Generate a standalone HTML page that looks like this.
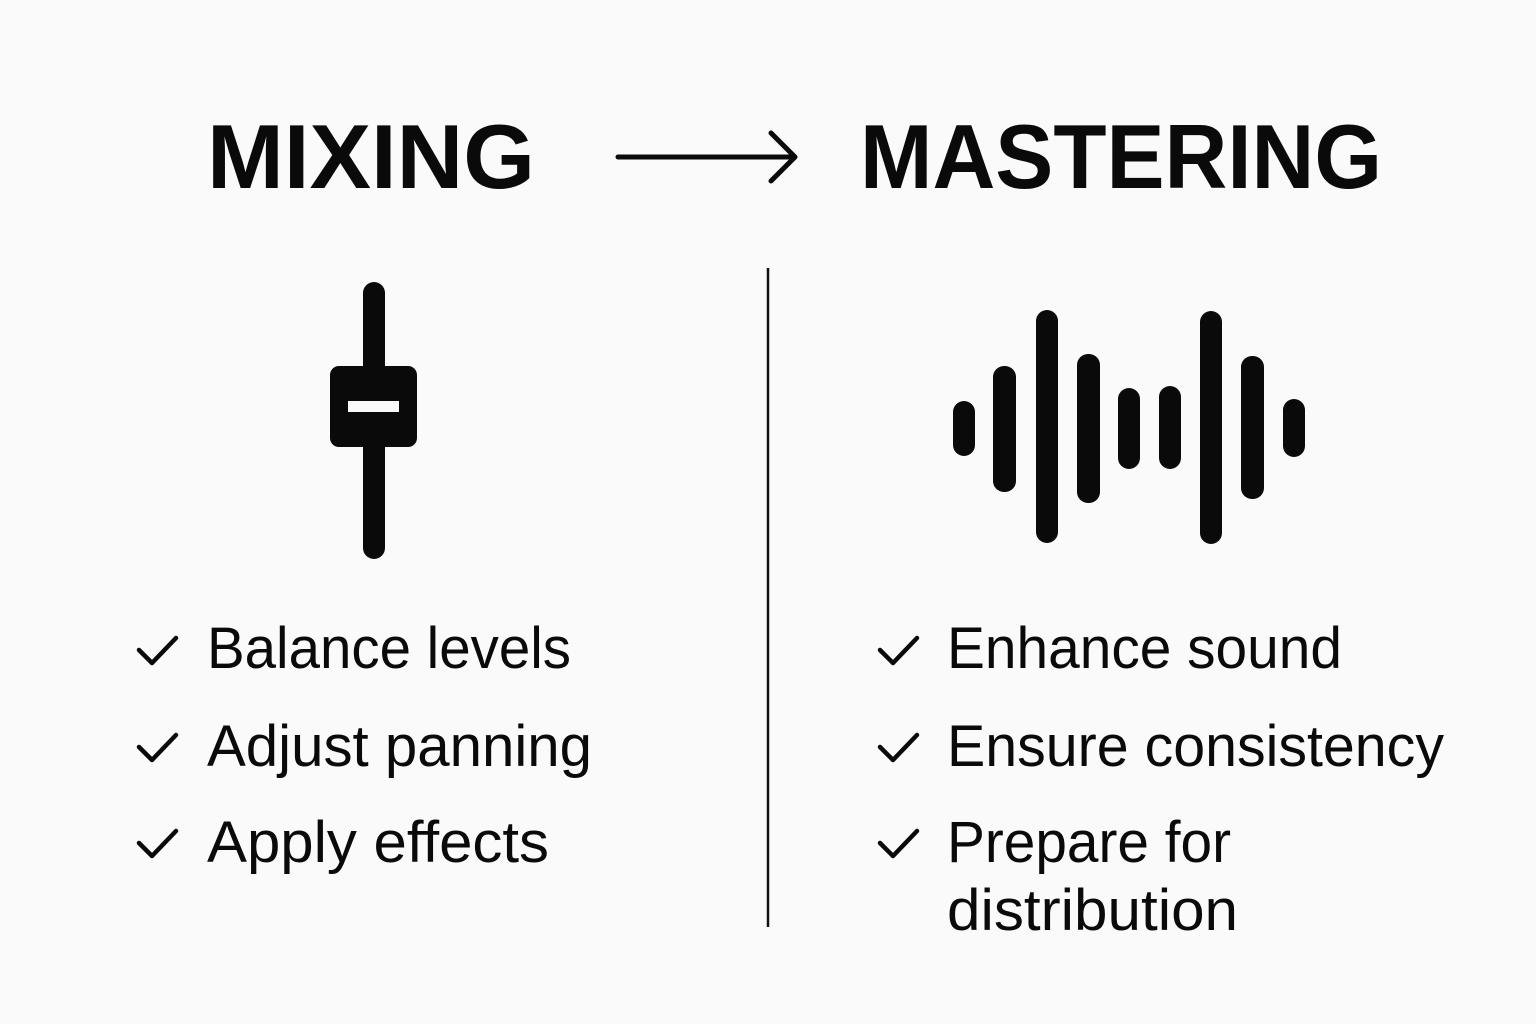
<!DOCTYPE html>
<html><head><meta charset="utf-8"><style>
html,body{margin:0;padding:0;background:#fafafa;}
svg{display:block}
</style></head><body>
<svg width="1536" height="1024" viewBox="0 0 1536 1024" xmlns="http://www.w3.org/2000/svg">
<rect width="1536" height="1024" fill="#fafafa"/>
<g font-family="Liberation Sans, sans-serif" fill="#0a0a0a">
<text x="207" y="188" font-size="91" font-weight="bold" textLength="328" lengthAdjust="spacingAndGlyphs">MIXING</text>
<text x="860" y="188" font-size="91" font-weight="bold" textLength="522" lengthAdjust="spacingAndGlyphs">MASTERING</text>
</g>
<g stroke="#0a0a0a" stroke-width="5" stroke-linecap="round" stroke-linejoin="round" fill="none">
<line x1="618" y1="157" x2="794" y2="157"/>
<polyline points="771,133 795,157 771,181"/>
</g>
<line x1="768" y1="268" x2="768" y2="927" stroke="#111" stroke-width="2.5"/>
<!-- fader -->
<rect x="363" y="282" width="22" height="277" rx="11" fill="#0a0a0a"/>
<rect x="330" y="366" width="87" height="81" rx="9" fill="#0a0a0a"/>
<rect x="348" y="401" width="51" height="11" fill="#fafafa"/>
<!-- waveform -->
<g fill="#0a0a0a">
<rect x="953" y="401" width="22" height="55" rx="11"/>
<rect x="993" y="366" width="23" height="126" rx="11"/>
<rect x="1036" y="310" width="22" height="233" rx="11"/>
<rect x="1077" y="354" width="23" height="149" rx="11"/>
<rect x="1118" y="388" width="22" height="81" rx="11"/>
<rect x="1159" y="386" width="22" height="83" rx="11"/>
<rect x="1200" y="311" width="22" height="233" rx="11"/>
<rect x="1241" y="356" width="23" height="143" rx="11"/>
<rect x="1283" y="399" width="22" height="58" rx="11"/>
</g>
<!-- checks -->
<g stroke="#0a0a0a" stroke-width="4.5" fill="none" stroke-linecap="round" stroke-linejoin="round">
<polyline points="139,650 152,663 176,638"/>
<polyline points="139,747 152,760 176,735"/>
<polyline points="139,843 152,856 176,831"/>
<polyline points="880,650 893,663 917,638"/>
<polyline points="880,747 893,760 917,735"/>
<polyline points="880,843 893,856 917,831"/>
</g>
<g font-family="Liberation Sans, sans-serif" font-size="58" fill="#0a0a0a">
<text x="207" y="668" textLength="364" lengthAdjust="spacingAndGlyphs">Balance levels</text>
<text x="207" y="766" textLength="385" lengthAdjust="spacingAndGlyphs">Adjust panning</text>
<text x="207" y="862" textLength="342" lengthAdjust="spacingAndGlyphs">Apply effects</text>
<text x="947" y="668" textLength="395" lengthAdjust="spacingAndGlyphs">Enhance sound</text>
<text x="947" y="766" textLength="497" lengthAdjust="spacingAndGlyphs">Ensure consistency</text>
<text x="947" y="862" textLength="284" lengthAdjust="spacingAndGlyphs">Prepare for</text>
<text x="947" y="930" textLength="291" lengthAdjust="spacingAndGlyphs">distribution</text>
</g>
</svg>
</body></html>
